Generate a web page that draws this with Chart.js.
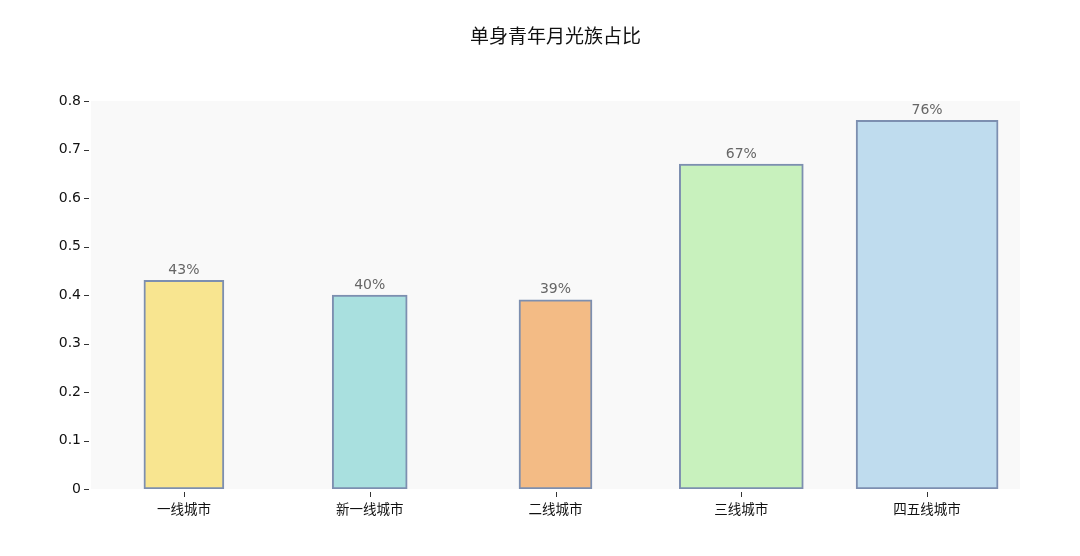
<!DOCTYPE html>
<html>
<head>
<meta charset="utf-8">
<script src="https://cdn.jsdelivr.net/npm/chart.js@4"></script>
<style>
html,body{margin:0;padding:0;background:#fff;}
#wrap{width:1080px;height:556px;}
</style>
</head>
<body>
<div id="wrap"><canvas id="c" width="1080" height="556"></canvas></div>
<script>
const categories = ['一线城市', '新一线城市', '二线城市', '三线城市', '四五线城市'];
const values = [0.43, 0.40, 0.39, 0.67, 0.76];
const valueLabels = ['43%', '40%', '39%', '67%', '76%'];
const yTicks = [0, 0.1, 0.2, 0.3, 0.4, 0.5, 0.6, 0.7, 0.8];
const titleText = '单身青年月光族占比';

const fillColors = ['#f8e590', '#a9e0df', '#f3bb85', '#c8f1bd', '#bfdcee'];
const barWidths = [80, 75, 73, 124, 142];
const FONT = '"DejaVu Sans", "Noto Sans CJK SC", sans-serif';

const datasets = categories.map((c, i) => ({
  label: c,
  data: categories.map((_, j) => j === i ? values[i] : null),
  backgroundColor: fillColors[i],
  borderColor: '#7d8fb0',
  borderWidth: 2,
  borderSkipped: false,
  barThickness: barWidths[i],
  grouped: false
}));

const helpers = {
  id: 'helpers',
  beforeDraw(chart) {
    const {ctx, chartArea: a} = chart;
    ctx.save();
    ctx.fillStyle = '#f9f9f9';
    ctx.fillRect(a.left, a.top, a.right - a.left, a.bottom - a.top);
    ctx.restore();
  },
  afterDraw(chart) {
    const {ctx, chartArea: a, scales} = chart;
    ctx.save();
    // title
    ctx.fillStyle = '#111';
    ctx.font = '19px ' + FONT;
    ctx.textAlign = 'center';
    ctx.textBaseline = 'middle';
    ctx.fillText(titleText, (a.left + a.right) / 2, 38);
    ctx.strokeStyle = '#333';
    ctx.lineWidth = 1;
    // y ticks
    yTicks.forEach(v => {
      const y = Math.round(scales.y.getPixelForValue(v)) + 0.5;
      ctx.beginPath();
      ctx.moveTo(a.left - 7, y);
      ctx.lineTo(a.left - 2, y);
      ctx.stroke();
    });
    // x ticks
    categories.forEach((c, i) => {
      const x = Math.round(scales.x.getPixelForValue(i)) + 0.5;
      ctx.beginPath();
      ctx.moveTo(x, a.bottom + 3);
      ctx.lineTo(x, a.bottom + 8);
      ctx.stroke();
    });
    // value labels
    ctx.fillStyle = '#666';
    ctx.font = '14px ' + FONT;
    ctx.textAlign = 'center';
    ctx.textBaseline = 'bottom';
    chart.data.datasets.forEach((ds, i) => {
      const el = chart.getDatasetMeta(i).data[i];
      ctx.fillText(valueLabels[i], el.x, el.y - 3);
    });
    ctx.restore();
  }
};

new Chart(document.getElementById('c'), {
  type: 'bar',
  data: { labels: categories, datasets },
  options: {
    responsive: false,
    animation: false,
    devicePixelRatio: 1,
    layout: { padding: { left: 0, right: 60, top: 101, bottom: 0 } },
    plugins: {
      legend: { display: false },
      tooltip: { enabled: false },
      title: { display: false }
    },
    scales: {
      x: {
        grid: { display: false },
        border: { display: false },
        ticks: { color: '#111', font: { size: 13.5, family: FONT }, padding: 5, maxRotation: 0 },
        afterFit(s) { s.height = 556 - 489; }
      },
      y: {
        min: 0, max: 0.8,
        grid: { display: false },
        border: { display: false },
        afterBuildTicks(s) { s.ticks = yTicks.map(v => ({ value: v })); },
        ticks: {
          color: '#111',
          font: { size: 14, family: FONT },
          padding: 2,
          callback: v => v === 0 ? '0' : v.toFixed(1)
        },
        afterFit(s) { s.width = 91; }
      }
    }
  },
  plugins: [helpers]
});
</script>
</body>
</html>
